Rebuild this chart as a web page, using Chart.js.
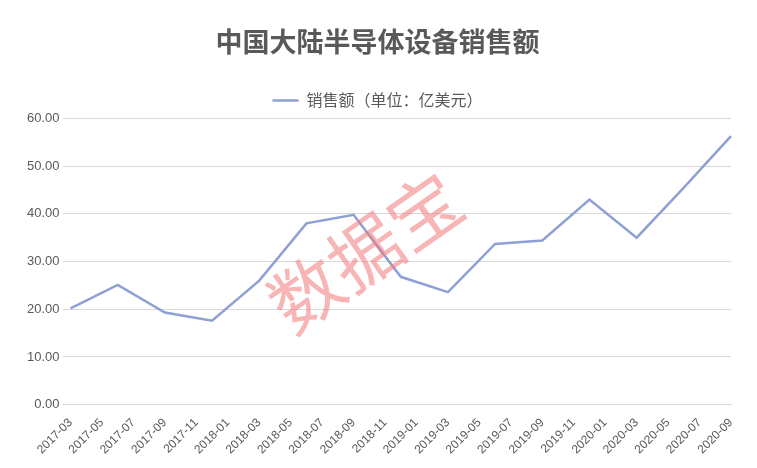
<!DOCTYPE html>
<html>
<head>
<meta charset="utf-8">
<script src="https://cdn.jsdelivr.net/npm/chart.js@4/dist/chart.umd.min.js"></script>
<style>
  body { margin: 0; background: #fff; }
</style>
</head>
<body>
<canvas id="c" width="757" height="468"></canvas>
<script>
// monthly axis, 2017-03 .. 2020-09
const months = [];
for (let y = 2017; y <= 2020; y++) {
    for (let m = 1; m <= 12; m++) {
        if (y === 2017 && m < 3) continue;
        if (y === 2020 && m > 9) break;
        months.push(`${y}-${String(m).padStart(2, '0')}`);
    }
}

// quarterly readings (100M USD)
const quarters = ['2017-03', '2017-06', '2017-09', '2017-12', '2018-03', '2018-06', '2018-09', '2018-12',
    '2019-03', '2019-06', '2019-09', '2019-12', '2020-03', '2020-06', '2020-09'];
const sales = [20.2, 25.1, 19.3, 17.6, 26.0, 38.0, 39.8, 26.8, 23.6, 33.7, 34.4, 43.0, 35.0, 45.5, 56.3];

const seriesData = months.map(m => {
    const i = quarters.indexOf(m);
    return i >= 0 ? sales[i] : null;
});

// pink watermark
const watermark = {
    id: 'watermark',
    afterDatasetsDraw(chart) {
        const ctx = chart.ctx;
        ctx.save();
        ctx.translate(365, 252);
        ctx.rotate(-35 * Math.PI / 180);
        ctx.font = '72px "Noto Sans CJK SC"';
        ctx.fillStyle = 'rgba(240, 120, 120, 0.55)';
        ctx.textAlign = 'center';
        ctx.textBaseline = 'middle';
        ctx.fillText('数据宝', 0, 0);
        ctx.restore();
    }
};

new Chart(document.getElementById('c'), {
    type: 'line',
    data: {
        labels: months,
        datasets: [{
            label: '销售额（单位：亿美元）',
            data: seriesData,
            borderColor: '#8ea0d4',
            backgroundColor: '#8ea0d4',
            borderWidth: 2.5,
            pointRadius: 0,
            tension: 0,
            spanGaps: true
        }]
    },
    options: {
        responsive: false,
        animation: false,
        devicePixelRatio: 1,
        layout: { padding: { left: 24, right: 26, top: 22, bottom: 8 } },
        plugins: {
            title: {
                display: true,
                text: '中国大陆半导体设备销售额',
                color: '#595959',
                font: { size: 27, weight: 'bold', family: '"Noto Sans CJK SC"' },
                padding: { top: 4, bottom: 14 }
            },
            legend: {
                labels: {
                    color: '#595959',
                    font: { size: 16, family: '"Noto Sans CJK SC"' },
                    boxWidth: 26,
                    boxHeight: 0,
                    padding: 20
                }
            },
            tooltip: { enabled: false }
        },
        scales: {
            x: {
                grid: { display: false },
                border: { color: '#d9d9d9' },
                ticks: {
                    autoSkip: false,
                    maxRotation: 45,
                    minRotation: 45,
                    color: '#595959',
                    font: { size: 12, family: 'Liberation Sans' },
                    callback: function (val, idx) {
                        return idx % 2 === 0 ? this.getLabelForValue(val) : '';
                    }
                }
            },
            y: {
                min: 0,
                max: 60,
                ticks: {
                    stepSize: 10,
                    color: '#595959',
                    font: { size: 13, family: 'Liberation Sans' },
                    callback: v => v.toFixed(2)
                },
                grid: { color: '#d9d9d9' },
                border: { display: false }
            }
        }
    },
    plugins: [watermark]
});
</script>
</body>
</html>
